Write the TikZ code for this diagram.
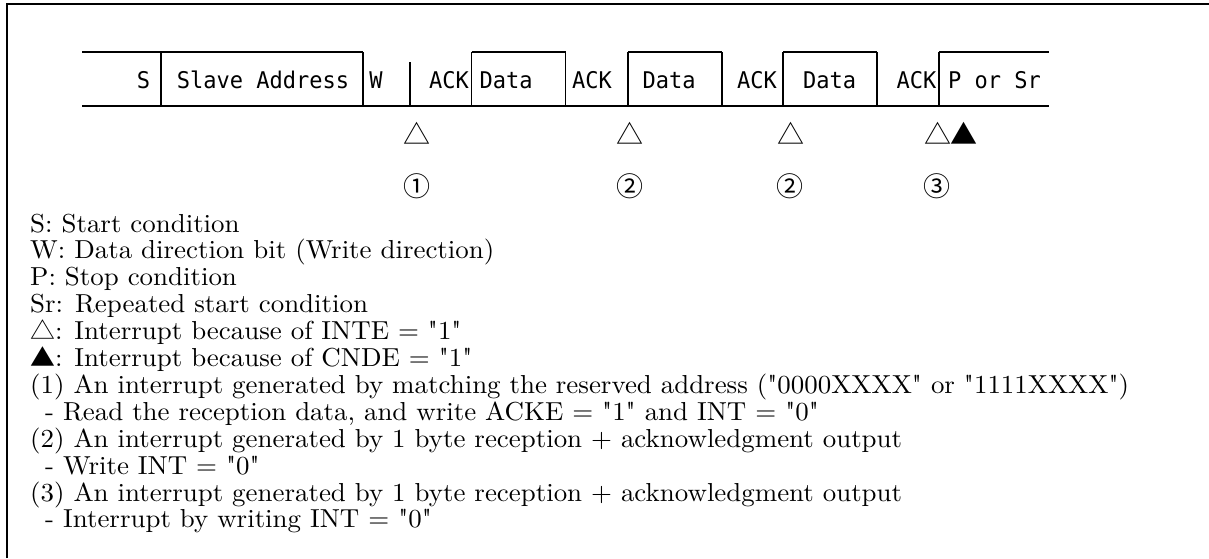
\documentclass[tikz,border=0pt]{standalone}
\usepackage{fontspec}
\setmainfont{lmroman10-regular.otf}[Ligatures=TeXOff]
\newfontfamily\barfont{DejaVu Sans Mono}[FakeStretch=0.957]
\newfontfamily\cjkfont{Noto Sans CJK JP}
\newcommand\legtxt[1]{\scalebox{1.035}[1]{#1}}
\begin{document}
\begin{tikzpicture}[x=1pt,y=-1pt,
  frame/.style={line width=1.8pt},
  bar/.style={line width=1.6pt},
  lbl/.style={font=\barfont\fontsize{23}{23}\selectfont, anchor=base, inner sep=0pt},
  sym/.style={font=\cjkfont\fontsize{27}{27}\selectfont, inner sep=0pt},
  leg/.style={font=\fontsize{26}{26}\selectfont, anchor=base west, inner sep=0pt}]
\useasboundingbox (0,0) rectangle (1209,558);
% frame
\draw[frame] (7,558) -- (7,4) -- (1209,4);
% sequence bar
\draw[bar] (82,106) -- (1049,106);
\draw[bar] (82,52) -- (363,52);
\draw[bar] (471.5,52) -- (565.6,52);
\draw[bar] (628,52) -- (722,52);
\draw[bar] (783,52) -- (877,52);
\draw[bar] (939,52) -- (1049,52);
\foreach \x in {161,363,471.5,565.6,628,722,783,877,939}
  \draw[bar] (\x,52) -- (\x,106);
\draw[bar] (410,62) -- (410,106);
% field labels
\node[lbl] (s)   at (143.5,88) {S};
\node[lbl] (sa)  at (263,88) {Slave Address};
\node[lbl] (w)   at (376,88) {W};
\node[lbl] (a1)  at (449,88) {ACK};
\node[lbl] (d1)  at (506,88) {Data};
\node[lbl] (a2)  at (592,88) {ACK};
\node[lbl] (d2)  at (669,88) {Data};
\node[lbl] (a3)  at (757,88) {ACK};
\node[lbl] (d3)  at (829.5,88) {Data};
\node[lbl] (a4)  at (916.5,88) {ACK};
\node[lbl] (p)   at (994.5,88) {P or Sr};
% interrupt marks
\node[sym] (t1) at (417,133) {△};
\node[sym] (t2) at (630,133) {△};
\node[sym] (t3) at (791,133) {△};
\node[sym] (t4) at (937.5,133) {△};
\node[sym] (t5) at (964,133) {▲};
\node[sym] (n1) at (417,186.5) {①};
\node[sym] (n2) at (630,186.5) {②};
\node[sym] (n3) at (790,186.5) {②};
\node[sym] (n4) at (937,186.5) {③};
% legend
\node[leg] (l1)  at (30,232) {\legtxt{S: Start condition}};
\node[leg] (l2)  at (30,258.9) {\legtxt{W: Data direction bit (Write direction)}};
\node[leg] (l3)  at (30,285.8) {\legtxt{P: Stop condition}};
\node[leg] (l4)  at (30,312.7) {\legtxt{Sr: Repeated start condition}};
\node[leg] (l5)  at (30,339.6) {\legtxt{{\cjkfont\fontsize{24}{24}\selectfont △}: Interrupt because of INTE = "1"}};
\node[leg] (l6)  at (30,366.5) {\legtxt{{\cjkfont\fontsize{24}{24}\selectfont ▲}: Interrupt because of CNDE = "1"}};
\node[leg] (l7)  at (30,393.4) {\legtxt{(1) An interrupt generated by matching the reserved address ("0000XXXX" or "1111XXXX")}};
\node[leg] (l8)  at (45,420.3) {\legtxt{- Read the reception data, and write ACKE = "1" and INT = "0"}};
\node[leg] (l9)  at (30,447.2) {\legtxt{(2) An interrupt generated by 1 byte reception + acknowledgment output}};
\node[leg] (l10) at (45,474.1) {\legtxt{- Write INT = "0"}};
\node[leg] (l11) at (30,501) {\legtxt{(3) An interrupt generated by 1 byte reception + acknowledgment output}};
\node[leg] (l12) at (45,527.9) {\legtxt{- Interrupt by writing INT = "0"}};
\end{tikzpicture}
\end{document}
